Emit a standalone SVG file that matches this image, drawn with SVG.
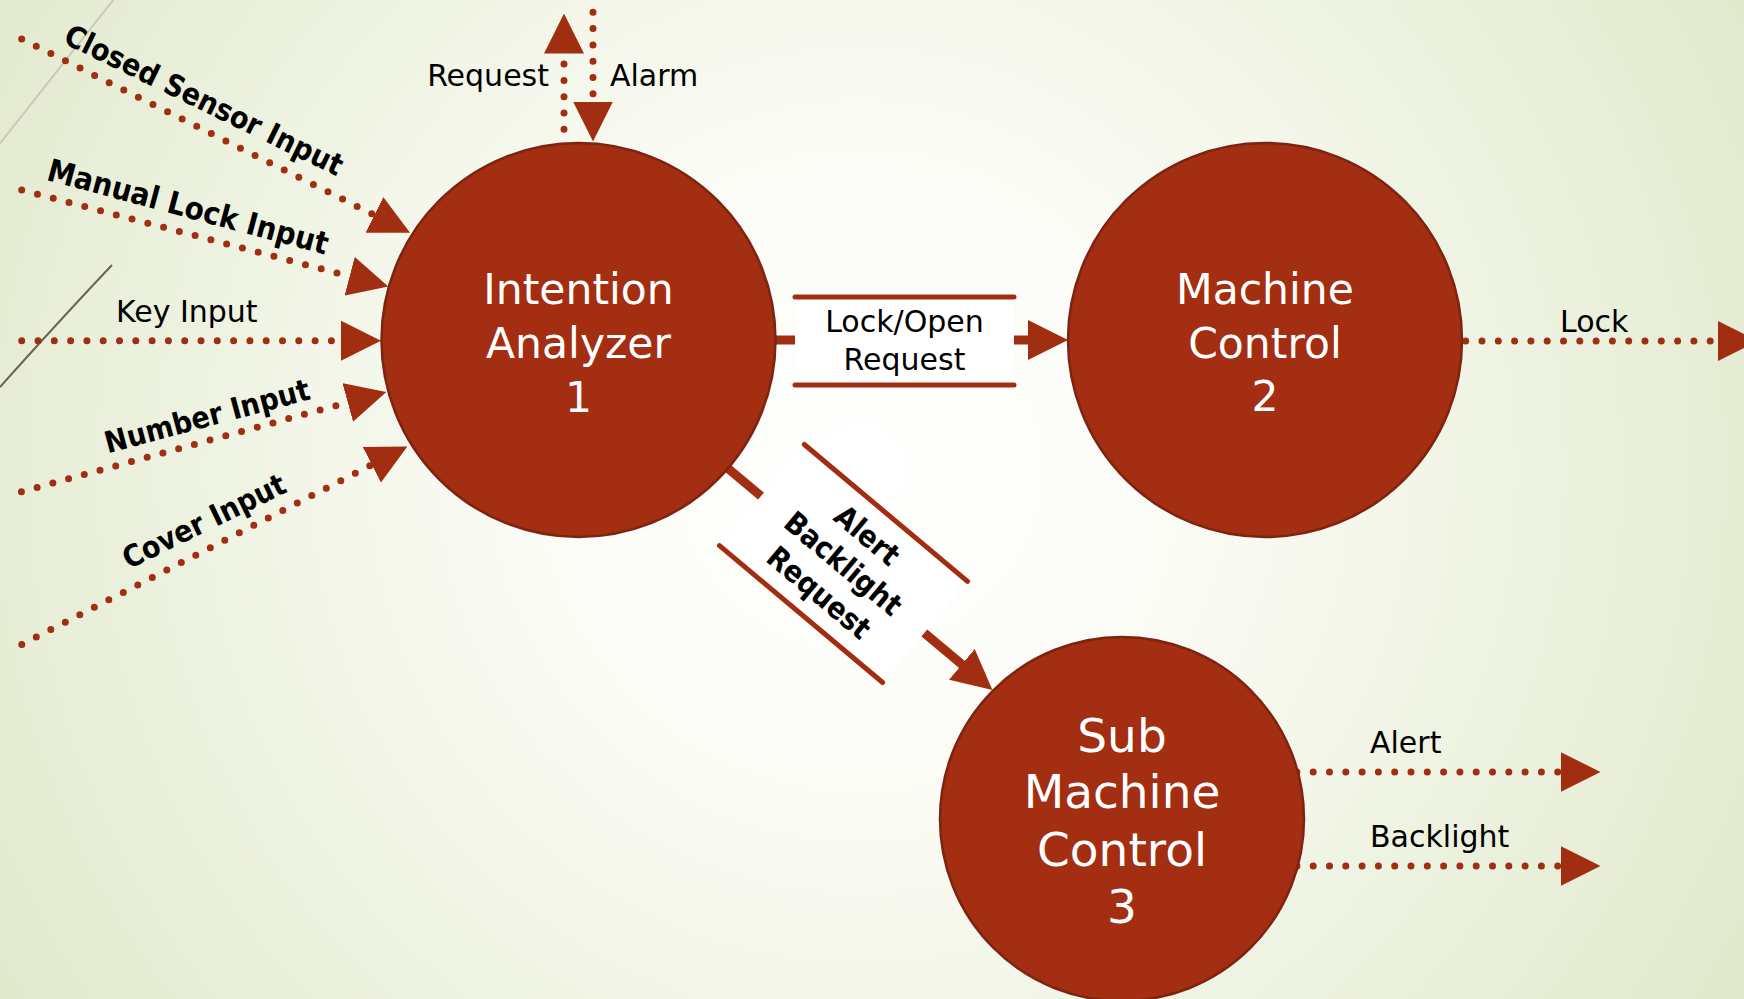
<svg xmlns="http://www.w3.org/2000/svg" width="1744" height="999" viewBox="0 0 1744 999">
<defs>
<radialGradient id="bg" gradientUnits="userSpaceOnUse" cx="860" cy="470" r="1050">
<stop offset="0" stop-color="#ffffff"/>
<stop offset="0.3" stop-color="#fbfcf6"/>
<stop offset="1" stop-color="#e0e8ca"/>
</radialGradient>
<marker id="ah" viewBox="0 0 40 40" refX="1" refY="20" markerWidth="40" markerHeight="40" markerUnits="userSpaceOnUse" orient="auto">
<path d="M0,0 L40,20 L0,40 Z" fill="#a22e12"/>
</marker>
<style>
.dot{fill:none;stroke:#a22e12;stroke-width:7;stroke-linecap:round;stroke-dasharray:0 16.3;marker-end:url(#ah)}
.solid{fill:none;stroke:#a22e12;stroke-width:9;marker-end:url(#ah)}
.bar{fill:none;stroke:#a22e12;stroke-width:5;stroke-linecap:round}
.lbl{font-family:"DejaVu Sans","Liberation Sans",sans-serif;font-size:30px;fill:#000}
.rlbl{font-family:"DejaVu Sans Condensed","DejaVu Sans","Liberation Sans",sans-serif;font-weight:bold;font-size:30px;fill:#000;text-anchor:middle}
.node{fill:#a32e11;stroke:#7d2311;stroke-width:2.5}
.ct{font-family:"DejaVu Sans","Liberation Sans",sans-serif;font-size:42.5px;fill:#fff;text-anchor:middle}
.ct3{font-family:"DejaVu Sans","Liberation Sans",sans-serif;font-size:47px;fill:#fff;text-anchor:middle}
</style>
</defs>
<rect x="0" y="0" width="1744" height="999" fill="url(#bg)"/>
<line x1="113.3" y1="0" x2="0" y2="143.3" stroke="#c8cab8" stroke-width="2"/>
<path d="M112,265 Q60,320 0,387" fill="none" stroke="#6a6450" stroke-width="2"/>

<g id="connectors">
<path class="dot" d="M21.7,39 L375.2,215.4"/>
<path class="dot" d="M21.7,190 L350.6,276.5"/>
<path class="dot" d="M21.7,340.7 L342,340.7"/>
<path class="dot" d="M21.4,491.7 L348.7,402.2"/>
<path class="dot" d="M21.8,644.5 L372.7,464.3"/>
<path class="dot" d="M564,129.3 L564,52.5"/>
<path class="dot" d="M593,12.3 L593,102.5"/>
<path class="dot" d="M1465.7,341 L1719,341"/>
<path class="dot" d="M1280.6,772 L1561.5,772"/>
<path class="dot" d="M1280.6,866 L1561.5,866"/>

<path class="solid" d="M776,340 L1029,340"/>
<rect x="795" y="297" width="219" height="88" fill="#fff"/>
<line class="bar" x1="795" y1="297" x2="1014" y2="297"/>
<line class="bar" x1="795" y1="385" x2="1014" y2="385"/>
<text class="lbl" x="904.5" y="332" text-anchor="middle">Lock/Open</text>
<text class="lbl" x="904.5" y="370" text-anchor="middle">Request</text>

<path class="solid" d="M720,461.7 L962.6,665"/>
<g transform="translate(843.5,563.5) rotate(40)">
<rect x="-106.5" y="-66" width="213" height="132" fill="#fff"/>
<line class="bar" x1="-106.5" y1="-66" x2="106.5" y2="-66"/>
<line class="bar" x1="-106.5" y1="66" x2="106.5" y2="66"/>
<text class="rlbl" x="0" y="-26.5">Alert</text>
<text class="rlbl" x="0" y="10.5">Backlight</text>
<text class="rlbl" x="0" y="48.5">Request</text>
</g>

<text class="rlbl" transform="translate(204,100) rotate(26)" y="10.5">Closed Sensor Input</text>
<text class="rlbl" transform="translate(188,207) rotate(15)" y="10.5" style="font-size:31px">Manual Lock Input</text>
<text class="lbl" x="116" y="322">Key Input</text>
<text class="rlbl" transform="translate(207,416) rotate(-15)" y="10.5">Number Input</text>
<text class="rlbl" transform="translate(204,521) rotate(-26)" y="10.5">Cover Input</text>
<text class="lbl" x="549" y="86" text-anchor="end">Request</text>
<text class="lbl" x="610" y="86">Alarm</text>
<text class="lbl" x="1560" y="332">Lock</text>
<text class="lbl" x="1370" y="753">Alert</text>
<text class="lbl" x="1370" y="847">Backlight</text>
</g>

<g id="node-intention-analyzer">
<circle class="node" cx="578.5" cy="340" r="197"/>
<text class="ct" x="578.5" y="304">Intention</text>
<text class="ct" x="578.5" y="358">Analyzer</text>
<text class="ct" x="578.5" y="412">1</text>
</g>
<g id="node-machine-control">
<circle class="node" cx="1265" cy="340" r="197"/>
<text class="ct" x="1265" y="304">Machine</text>
<text class="ct" x="1265" y="358">Control</text>
<text class="ct" x="1265" y="411">2</text>
</g>
<g id="node-sub-machine-control">
<circle class="node" cx="1122" cy="819" r="182"/>
<text class="ct3" x="1122" y="752">Sub</text>
<text class="ct3" x="1122" y="808">Machine</text>
<text class="ct3" x="1122" y="866">Control</text>
<text class="ct3" x="1122" y="923">3</text>
</g>
</svg>
